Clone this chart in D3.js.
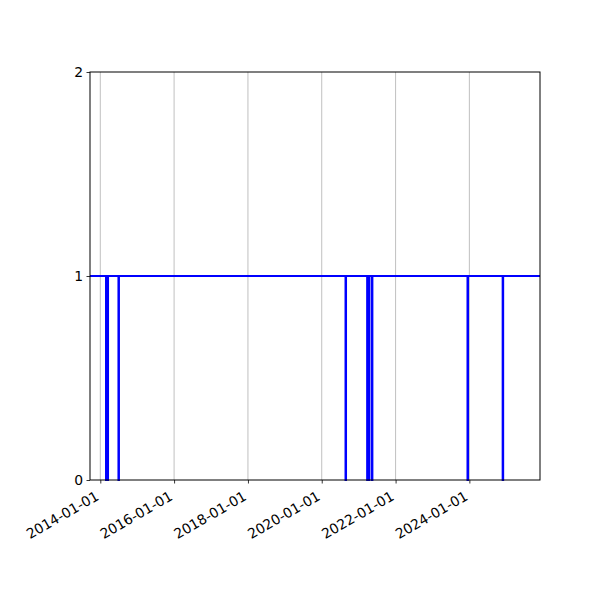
<!DOCTYPE html>
<html><head><meta charset="utf-8">
<script src="https://cdn.jsdelivr.net/npm/d3@7"></script>
<style>body{margin:0;background:#fff}svg{font-family:"DejaVu Sans",sans-serif}</style>
</head><body><svg id="c" width="600" height="600"></svg>
<script>
const xDomain = ["2013-09-21", "2025-11-30"];
const yTicks = [0, 1, 2];
const xTickLabels = ["2014-01-01","2016-01-01","2018-01-01","2020-01-01","2022-01-01","2024-01-01"];
const dipStarts = ["2014-02-27","2014-06-30","2020-08-24","2021-03-26","2021-05-12","2023-12-14","2024-11-26"];
const dipEnds   = ["2014-03-18","2014-07-04","2020-08-28","2021-04-16","2021-05-16","2023-12-18","2024-11-30"];

const parse = d3.utcParse("%Y-%m-%d");
const svg = d3.select("#c");
const L=90,R=540,T=72,B=480;
const x = d3.scaleUtc().domain(xDomain.map(parse)).range([L,R]);
const y = d3.scaleLinear().domain([0,2]).range([B,T]);

const pts = [{d:parse(xDomain[0]),v:1}];
dipStarts.forEach((s,i)=>{pts.push({d:parse(s),v:0});pts.push({d:parse(dipEnds[i]),v:1});});
pts.push({d:parse(xDomain[1]),v:1});

svg.append("g").selectAll("line").data(xTickLabels.map(parse)).join("line")
  .attr("x1",d=>x(d)).attr("x2",d=>x(d)).attr("y1",T).attr("y2",B)
  .attr("stroke","#b0b0b0").attr("stroke-width",0.8);

svg.append("defs").append("clipPath").attr("id","clip").append("rect")
  .attr("x",L).attr("y",T-2).attr("width",R-L).attr("height",B-T+4);

svg.append("path").datum(pts).attr("clip-path","url(#clip)")
  .attr("fill","none").attr("stroke","#0000ff").attr("stroke-width",2.1)
  .attr("d",d3.line().x(d=>x(d.d)).y(d=>y(d.v)).curve(d3.curveStepAfter));

const xa = svg.append("g").attr("transform",`translate(0,${B})`)
  .call(d3.axisBottom(x).tickValues(xTickLabels.map(parse)).tickFormat(d3.utcFormat("%Y-%m-%d")).tickSize(3.5).tickSizeOuter(0))
  .attr("font-family","DejaVu Sans").attr("font-size",13.9);
xa.select(".domain").remove();
xa.selectAll("line").attr("stroke","#000").attr("stroke-width",0.8);
xa.selectAll("text").attr("fill","#000")
  .attr("text-anchor","end").attr("dy",null).attr("y",0)
  .attr("transform","translate(-1,19) rotate(-30)");

const ya = svg.append("g").attr("transform",`translate(${L},0)`)
  .call(d3.axisLeft(y).tickValues(yTicks).tickFormat(d3.format("d")).tickSize(3.5).tickSizeOuter(0))
  .attr("font-family","DejaVu Sans").attr("font-size",13.9);
ya.select(".domain").remove();
ya.selectAll("line").attr("stroke","#000").attr("stroke-width",0.8);
ya.selectAll("text").attr("fill","#000").attr("x",-7);

svg.append("rect").attr("x",L).attr("y",T).attr("width",R-L).attr("height",B-T)
  .attr("fill","none").attr("stroke","#000").attr("stroke-width",1);
</script></body></html>
